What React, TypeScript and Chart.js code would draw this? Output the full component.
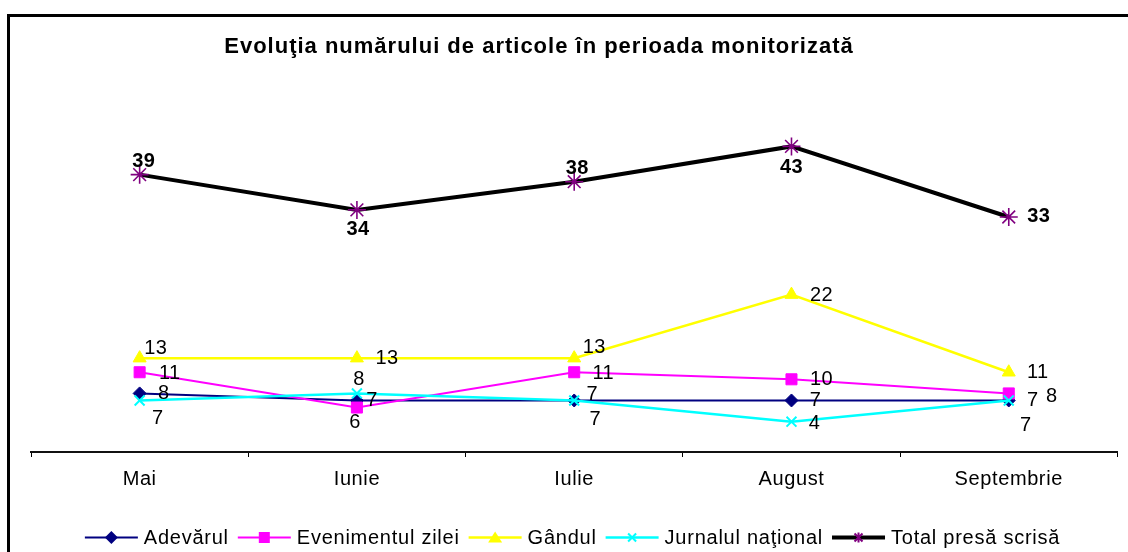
import React, { useEffect, useRef } from 'react';
import { Chart, registerables } from 'chart.js';

Chart.register(...registerables);

// ---------- data ----------
const months = ['Mai', 'Iunie', 'Iulie', 'August', 'Septembrie'];
const adevarul = [8, 7, 7, 7, 7];
const evenimentul = [11, 6, 11, 10, 8];
const gandul = [13, 13, 13, 22, 11];
const jurnalul = [7, 8, 7, 4, 7];
const total = [39, 34, 38, 43, 33];
const seriesNames = ['Adevărul', 'Evenimentul zilei', 'Gândul', 'Jurnalul naţional', 'Total presă scrisă'];
const chartTitle = 'Evoluţia numărului de articole în perioada monitorizată';

// ---------- label placement (text centre offset from point, px) ----------
const offAdevarul = [[24, 0], [15, 0], [18, -6], [24, 0], [24, 0]];
const offEvenimentul = [[30, 1], [-2, 15], [29, 1], [30, 0], [43, 3]];
const offGandul = [[16, -10], [30, 0], [20, -11], [30, 1], [29, 0]];
const offJurnalul = [[18, 18], [2, -14], [21, 19], [23, 2], [17, 25]];
const offTotal = [[4, -13], [1, 20], [3, -13], [0, 21], [30, 0]];
const labelOffsets = [offAdevarul, offEvenimentul, offGandul, offJurnalul, offTotal];

const FONT = '"Liberation Sans", Arial, sans-serif';

type Shape = 'diamond' | 'square' | 'triangle' | 'x' | 'star';
const shapes: Shape[] = ['diamond', 'square', 'triangle', 'x', 'star'];
const lineColors = ['#000080', '#FF00FF', '#FFFF00', '#00FFFF', '#000000'];
const markerColors = ['#000080', '#FF00FF', '#FFFF00', '#00FFFF', '#800080'];
const lineWidths = [2, 2, 2.5, 2.5, 4];

function drawMarker(ctx: CanvasRenderingContext2D, shape: Shape, x: number, y: number, color: string) {
  ctx.save();
  ctx.fillStyle = color;
  ctx.strokeStyle = color;
  ctx.beginPath();
  if (shape === 'diamond') {
    const r = 6.5;
    ctx.moveTo(x - r, y); ctx.lineTo(x, y - r); ctx.lineTo(x + r, y); ctx.lineTo(x, y + r);
    ctx.closePath(); ctx.fill();
  } else if (shape === 'square') {
    ctx.rect(x - 5.5, y - 5.5, 11, 11); ctx.fill();
  } else if (shape === 'triangle') {
    ctx.moveTo(x, y - 6); ctx.lineTo(x + 7, y + 5); ctx.lineTo(x - 7, y + 5);
    ctx.closePath(); ctx.fill();
  } else if (shape === 'x') {
    const r = 4;
    ctx.lineWidth = 2;
    ctx.moveTo(x - r, y - r); ctx.lineTo(x + r, y + r);
    ctx.moveTo(x + r, y - r); ctx.lineTo(x - r, y + r);
    ctx.stroke();
  } else {
    const r = 5;
    ctx.lineWidth = 2;
    ctx.moveTo(x, y - r); ctx.lineTo(x, y + r);
    ctx.moveTo(x - r * 0.8, y - r * 0.8); ctx.lineTo(x + r * 0.8, y + r * 0.8);
    ctx.moveTo(x + r * 0.8, y - r * 0.8); ctx.lineTo(x - r * 0.8, y + r * 0.8);
    ctx.stroke();
  }
  ctx.restore();
}

const decor = {
  id: 'decor',
  beforeUpdate(chart: any) {
    chart.ctx.letterSpacing = '0.6px';
  },
  beforeDraw(chart: any) {
    chart.ctx.letterSpacing = '0.6px';
  },
  afterDatasetsDraw(chart: any) {
    const ctx: CanvasRenderingContext2D = chart.ctx;
    chart.data.datasets.forEach((ds: any, i: number) => {
      const meta = chart.getDatasetMeta(i);
      const offs = labelOffsets[i];
      meta.data.forEach((pt: any, j: number) => {
        ctx.save();
        ctx.font = (i === 4 ? 'bold ' : '') + '20px ' + FONT;
        (ctx as any).letterSpacing = '0.3px';
        ctx.fillStyle = '#000';
        ctx.textAlign = 'center';
        ctx.textBaseline = 'middle';
        ctx.fillText(String(ds.data[j]), pt.x + offs[j][0], pt.y + offs[j][1]);
        ctx.restore();
      });
    });
  },
  afterDraw(chart: any) {
    const ctx: CanvasRenderingContext2D = chart.ctx;
    ctx.save();
    // outer frame
    ctx.fillStyle = '#000';
    ctx.fillRect(7, 14, 3, chart.height - 14);
    ctx.fillRect(7, 14, chart.width - 7, 3);
    // title
    ctx.font = 'bold 22px ' + FONT;
    (ctx as any).letterSpacing = '1px';
    ctx.textAlign = 'center';
    ctx.textBaseline = 'middle';
    ctx.fillText(chartTitle, 539, 47);
    // legend
    ctx.font = '20px ' + FONT;
    (ctx as any).letterSpacing = '0.75px';
    const lineLen = 53, gapText = 6, gapItem = 9;
    const widths = seriesNames.map((n) => ctx.measureText(n).width);
    const totalW = widths.reduce((a, w) => a + lineLen + gapText + w, 0) + gapItem * (seriesNames.length - 1);
    let x = 572.5 - totalW / 2;
    const y = 537.5;
    ctx.textAlign = 'left';
    seriesNames.forEach((n, i) => {
      ctx.beginPath();
      ctx.strokeStyle = lineColors[i];
      ctx.lineWidth = lineWidths[i];
      ctx.moveTo(x, y);
      ctx.lineTo(x + lineLen, y);
      ctx.stroke();
      drawMarker(ctx, shapes[i], x + lineLen / 2, y, markerColors[i]);
      ctx.fillStyle = '#000';
      ctx.fillText(n, x + lineLen + gapText, y + 1);
      x += lineLen + gapText + widths[i] + gapItem;
    });
    ctx.restore();
  },
};

export default function App() {
  const ref = useRef<HTMLCanvasElement>(null);
  useEffect(() => {
    document.documentElement.style.overflow = 'hidden';
    const seriesData = [adevarul, evenimentul, gandul, jurnalul, total];
    const chart = new Chart(ref.current as HTMLCanvasElement, {
      type: 'line',
      data: {
        labels: months,
        datasets: [
          {
            label: seriesNames[0], data: seriesData[0], borderColor: lineColors[0], borderWidth: lineWidths[0],
            pointStyle: 'rectRot', pointRadius: 6.5, pointBackgroundColor: markerColors[0], pointBorderColor: markerColors[0],
            pointBorderWidth: 1, order: 4,
          },
          {
            label: seriesNames[1], data: seriesData[1], borderColor: lineColors[1], borderWidth: lineWidths[1],
            pointStyle: 'rect', pointRadius: 7.8, pointBackgroundColor: markerColors[1], pointBorderColor: markerColors[1],
            pointBorderWidth: 1, order: 3,
          },
          {
            label: seriesNames[2], data: seriesData[2], borderColor: lineColors[2], borderWidth: lineWidths[2],
            pointStyle: 'triangle', pointRadius: 7.5, pointBackgroundColor: markerColors[2], pointBorderColor: markerColors[2],
            pointBorderWidth: 1, order: 2,
          },
          {
            label: seriesNames[3], data: seriesData[3], borderColor: lineColors[3], borderWidth: lineWidths[3],
            pointStyle: 'crossRot', pointRadius: 7, pointBackgroundColor: markerColors[3], pointBorderColor: markerColors[3],
            pointBorderWidth: 2, order: 1,
          },
          {
            label: seriesNames[4], data: seriesData[4], borderColor: lineColors[4], borderWidth: lineWidths[4],
            pointStyle: 'star', pointRadius: 9, pointBackgroundColor: markerColors[4], pointBorderColor: markerColors[4],
            pointBorderWidth: 1.6, order: 0,
          },
        ],
      },
      options: {
        responsive: false,
        animation: false,
        devicePixelRatio: 1,
        layout: { padding: { left: 31, right: 5, top: 97, bottom: 51 } },
        plugins: { legend: { display: false }, title: { display: false }, tooltip: { enabled: false } },
        elements: { line: { tension: 0, fill: false } },
        scales: {
          x: {
            type: 'category',
            offset: true,
            grid: { display: true, drawOnChartArea: false, drawTicks: true, tickLength: 5, color: '#000', lineWidth: 1, offset: true },
            border: { display: true, color: '#111', width: 2 },
            ticks: { color: '#000', font: { family: FONT, size: 20 }, padding: 10, maxRotation: 0, autoSkip: false },
          },
          y: { display: false, min: -0.3, max: 50 },
        },
      },
      plugins: [decor],
    } as any);
    return () => chart.destroy();
  }, []);
  return (
    <canvas
      ref={ref}
      width={1128}
      height={552}
      style={{ position: 'fixed', left: 0, top: 0, width: '1128px', height: '552px', background: '#fff' }}
    />
  );
}
